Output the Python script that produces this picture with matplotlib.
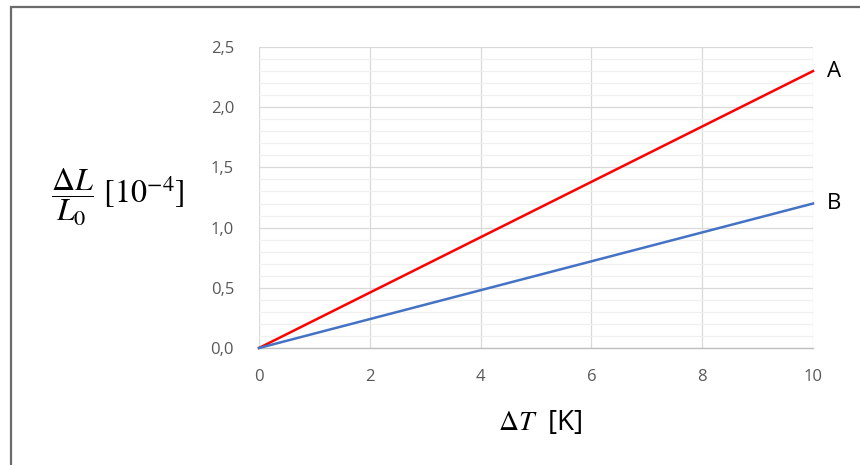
import matplotlib
matplotlib.use("Agg")
import matplotlib.pyplot as plt
from matplotlib.patches import Rectangle
import numpy as np

# Data
delta_T = [0, 10]
series_A = [0.0, 2.3]
series_B = [0.0, 1.2]
series_names = ["A", "B"]
x_ticks = [0, 2, 4, 6, 8, 10]
y_ticks = [0.0, 0.5, 1.0, 1.5, 2.0, 2.5]
y_tick_labels = ["0,0", "0,5", "1,0", "1,5", "2,0", "2,5"]

plt.rcParams['mathtext.fontset'] = 'stix'

fig = plt.figure(figsize=(8.6, 4.65), dpi=100)
W, H = 860, 465
ax = fig.add_axes([259 / W, 1 - 348 / H, (813 - 259) / W, (348 - 47) / H])

# Figure frame
fig.patches.append(Rectangle((10.5 / W, -0.05), 1.1, 1 - 7.5 / H + 0.05,
                             transform=fig.transFigure, fill=False,
                             edgecolor="#6b6b6b", linewidth=1.6, zorder=0))

ax.set_xlim(0, 10)
ax.set_ylim(0, 2.5)

# Minor gridlines
ax.set_yticks(np.arange(0, 2.5001, 0.1), minor=True)
ax.grid(True, which="minor", axis="y", color="#f0f0f0", linewidth=0.9, zorder=0)
ax.grid(True, which="major", axis="both", color="#d9d9d9", linewidth=0.9, zorder=1)
ax.tick_params(which="minor", length=0)

ax.plot(delta_T, series_A, color="#ff0000", linewidth=1.8, zorder=3, clip_on=False)
ax.plot(delta_T, series_B, color="#4472c4", linewidth=1.8, zorder=3, clip_on=False)

ax.set_xticks(x_ticks)
ax.set_xticklabels([str(t) for t in x_ticks])
ax.set_yticks(y_ticks)
ax.set_yticklabels(y_tick_labels)
ax.tick_params(which="major", length=0, labelsize=12, colors="#595959")
ax.tick_params(axis="x", pad=15)
ax.tick_params(axis="y", pad=18)
for lab in ax.get_xticklabels() + ax.get_yticklabels():
    lab.set_family("Open Sans")

for s in ["top", "right", "left"]:
    ax.spines[s].set_visible(False)
ax.spines["bottom"].set_color("#bfbfbf")
ax.spines["bottom"].set_linewidth(1.0)

# Series labels
ax.text(10.25, series_A[-1], series_names[0], fontsize=16, va="center", ha="left",
        family="Open Sans", color="black")
ax.text(10.25, series_B[-1], series_names[1], fontsize=16, va="center", ha="left",
        family="Open Sans", color="black")

# Axis labels
fig.text(118 / W, 1 - 197 / H, r"$\dfrac{\Delta L}{L_0}\ [10^{-4}]$", fontsize=23,
         ha="center", va="center", color="black")
fig.text(540 / W, 1 - 423 / H, r"$\Delta T$  [K]", fontsize=20, ha="center",
         va="center", color="black", family="Open Sans")

fig.savefig("out.png", dpi=100)
